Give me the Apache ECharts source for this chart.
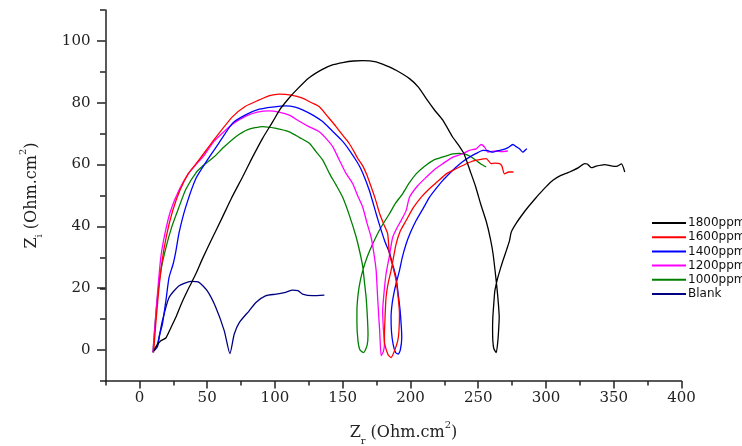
<!DOCTYPE html>
<html>
<head>
<meta charset="utf-8">
<script src="https://cdn.jsdelivr.net/npm/echarts@6/dist/echarts.min.js"></script>
<style>
  html, body { margin: 0; padding: 0; background: #ffffff; }
  #chart { width: 742px; height: 446px; }
</style>
</head>
<body>
<div id="chart"></div>
<script>
// Nyquist plots: [Zr, Zi] pairs in Ohm.cm2, listed along each curve
const seriesNames = ['1800ppm', '1600ppm', '1400ppm', '1200ppm', '1000ppm', 'Blank'];
const seriesColors = ['#000000', '#ff0000', '#0000ff', '#ff00ff', '#008000', '#000080'];

const zrTickLabels = [0, 50, 100, 150, 200, 250, 300, 350, 400];
const ziTickLabels = [0, 20, 40, 60, 80, 100];

const curve1800 = [[10.9,-0.2],[13,1.5],[15.8,3],[19.5,3.9],[23,7],[26.9,10.6],[31,15],[36.7,20.3],[41.5,24.5],[46.5,29.5],[53,35.5],[61.3,43],[68,49.2],[76.1,56],[83,62],[90.9,68.5],[98.3,73.8],[104,78],[110,81.3],[115.6,84],[125,88],[135,90.8],[143,92.3],[150,93],[158,93.5],[164.8,93.6],[174.7,93.2],[182,92],[189.4,90.5],[199.3,87.8],[206,85],[213,80.5],[218,77.5],[224,74.3],[231,69],[235.5,66.3],[239.5,63.5],[244,58],[248,53],[252,47],[256,41.5],[259,36],[261,31],[263,23.5],[264.5,17],[265.5,10.6],[265,6],[264.5,3],[263.3,-0.8],[261.5,0.5],[260.8,3],[260.6,7],[260.8,10.6],[261.5,15],[262.3,19.2],[264.5,23.5],[266.5,26.5],[268.2,28.9],[271,32.5],[273.1,35.4],[274.4,38.2],[278,41],[283,44.1],[286.7,46.2],[292.9,49.4],[295.3,50.6],[300,52.8],[305.1,54.9],[311,56.5],[317.4,57.6],[320,58.1],[324,59],[328.5,60.3],[330.5,60.2],[333.5,59],[337,59.5],[343.3,60],[348,59.6],[351.9,59.4],[355.7,60.2],[358.1,57.6]];

const curve1600 = [[10.5,-0.8],[12,8],[14,18],[16.5,28],[20,37],[24.5,45],[30,51.8],[36,57],[44,61.5],[55,68],[68.8,75.5],[78,78.8],[88.4,80.9],[96,82.3],[103.2,82.8],[112,82.5],[120.4,81.5],[127,80],[132.8,78.7],[139,75.5],[145.1,72.3],[150,69.5],[154.7,66.9],[158,64.5],[161.1,62],[164.8,59.6],[167.5,57],[170.2,53.8],[174,49],[177.3,44.1],[180.5,40.5],[183.2,37.6],[184.5,31.1],[187,27],[189.4,22.5],[191.2,16],[191.9,11.7],[191.5,6],[190.6,3],[188,-0.5],[185.7,-2.4],[183.5,-1.5],[181,2],[180.8,4.1],[181.2,10],[182,17],[183.5,21.5],[185.7,25.7],[187.5,30],[189.4,34.3],[192.5,38.5],[196.8,41.9],[202,46],[208,49.5],[214,52.2],[220,54.5],[226.4,57],[232,58.3],[238.6,59.7],[245,61],[251,61.6],[255.9,61.9],[259.6,60.3],[262.5,60.5],[265.8,60.3],[267.5,59.5],[269.4,57],[272.5,57.6],[276,57.6]];

const curve1400 = [[10,-0.5],[12,0.3],[13.4,1.1],[15,5],[17,8.4],[19.6,16.1],[21.9,23.5],[25,28],[27,32.2],[29.3,38],[34,46],[41.7,55.5],[50.2,61.5],[58,66.5],[68.8,73.4],[78,76],[88.4,77.9],[98,78.6],[108.2,79],[115,78.6],[120.4,77.7],[128,76],[135.2,73.9],[142,71],[150,67.5],[155.5,64.3],[161.1,60.5],[164.8,57.3],[169.7,51.6],[174.7,44.1],[177.5,40],[181,35.3],[184.5,31.5],[187,27.5],[189.4,23.5],[191,18],[192.4,12.7],[193.2,8],[193.6,4.1],[192.5,0],[191,-1.3],[189,-0.8],[187.2,1.9],[186,6],[185.7,10.6],[186.5,15],[188.2,19.2],[190,22.5],[191.9,25.7],[194,30],[196.8,34.3],[200,38],[204.2,41.9],[209,45.5],[214,49.4],[219,52.3],[223.9,54.9],[229,57.2],[233.8,59.2],[238.7,61],[243.6,62.4],[248.5,63.6],[253.4,64.6],[257,64.5],[260.8,64],[264.5,64.5],[268.2,64.8],[272,65.5],[275.6,66.5],[278,65.8],[280.5,65.1],[283,64],[285,64.8],[286,65.1]];

const curve1200 = [[10,-0.8],[11.5,8],[13.3,18],[15.8,30],[19,38],[23,45],[29,51.5],[36,57],[41.7,60],[47.8,63],[55,67.5],[63.8,71.2],[70,73.5],[78.6,75.7],[87,77],[95.8,77.4],[103,77],[110.6,76],[118,74],[125,72.3],[132.8,70.6],[138,68.3],[142.6,65.8],[147.5,61.5],[152,57.5],[157.4,53.8],[161,50],[164.8,46.2],[168,41],[171,36.5],[173.3,30.5],[174.7,25.7],[175.8,17],[176.6,11],[177.3,6.3],[178.4,-1.8],[180,-0.5],[180.8,1.9],[180,7],[179.5,12.7],[180.5,18.5],[182,24.6],[184.5,30.5],[186.9,36.5],[190,39.5],[193.1,41.9],[196.8,45.1],[199.3,49.4],[205,53],[211.6,55.9],[218,58.5],[223.9,60.3],[231.3,62.4],[238.6,63.5],[243.6,64.6],[248.5,65.1],[252.2,66.5],[255,65.5],[257.1,64],[260,64.3],[263.3,64.4],[267,64.2],[271.9,64.4]];

const curve1000 = [[10,-0.8],[11.5,8],[13.3,17],[16,26],[19.5,33],[24,40],[29,46],[34.3,52],[42,57.5],[48,60],[55.2,62.5],[62,65.5],[71.2,69],[80,71.3],[90.9,72.3],[100,71.8],[110.6,70.6],[118,68.8],[125.4,66.9],[130.3,64.2],[135.2,61.5],[140.4,57],[145,53.5],[150,49.4],[155,43.5],[160,36.5],[163,31],[164.8,27],[166.3,21],[167.3,17],[168.3,10],[168.7,5],[168,1.5],[165.5,-0.8],[162.8,0],[161.3,3],[160.5,9],[160.6,14],[161.5,18.5],[163,22.5],[164.8,25.7],[168,30],[172.1,34.3],[178,39.5],[184.5,44.1],[189,47.5],[194.3,50.6],[199,54],[204.2,57],[210,59.3],[216.5,61.3],[224,62.5],[231.3,63.5],[236,63.6],[239.9,63.5],[244,62.7],[248.5,61.3],[252,60.2],[255.9,59.2]];

const curveBlank = [[10,-0.5],[13.3,1.9],[17,9.5],[21.9,17],[29.3,20.8],[38,22.2],[44,21.9],[50,19.2],[56.4,13.8],[62.6,6.3],[66.8,-1.1],[70,5.2],[73.7,8.9],[81,12.7],[86,15.4],[93.4,17.6],[100.8,18.1],[108,18.7],[113,19.4],[117,19.2],[120.4,18.1],[127.8,17.6],[136.5,17.8]];

const curves = [curve1800, curve1600, curve1400, curve1200, curve1000, curveBlank];

const axisColor = '#222222';
const serif = 'DejaVu Serif';

const nameRich = {
  b: { fontFamily: serif, fontSize: 16, color: '#222', lineHeight: 26, verticalAlign: 'middle' },
  s: { fontFamily: serif, fontSize: 10, color: '#222', lineHeight: 26, verticalAlign: 'bottom' },
  p: { fontFamily: serif, fontSize: 10, color: '#222', lineHeight: 26, verticalAlign: 'top' }
};

const chart = echarts.init(document.getElementById('chart'), null, { renderer: 'canvas' });

chart.setOption({
  animation: false,
  backgroundColor: '#ffffff',
  grid: [
    { left: 105.5, right: 60.5, top: 10, bottom: 65, containLabel: false, outerBoundsMode: 'none' },
    { left: 139.4, right: 60.5, top: 41, bottom: 96, containLabel: false, outerBoundsMode: 'none' }
  ],
  xAxis: [
    {
      gridIndex: 0, type: 'value', min: -25, max: zrTickLabels[zrTickLabels.length - 1], interval: 25,
      axisLine: { onZero: false, lineStyle: { color: axisColor, width: 1.5 } },
      axisTick: { length: 4.5, lineStyle: { color: axisColor, width: 1.5 } },
      axisLabel: { show: false },
      splitLine: { show: false }
    },
    {
      gridIndex: 1, type: 'value', min: zrTickLabels[0], max: zrTickLabels[zrTickLabels.length - 1], interval: 50,
      offset: 31,
      axisLine: { show: false, onZero: false },
      axisTick: { length: 7.5, lineStyle: { color: axisColor, width: 1.5 } },
      axisLabel: { margin: 10, fontFamily: serif, fontSize: 15, color: '#222' },
      splitLine: { show: false },
      name: '{b|Z}{s|r}{b| (Ohm.cm}{p|2}{b|)}',
      nameLocation: 'middle',
      nameGap: 39,
      nameTextStyle: { rich: nameRich, padding: [0, 14, 0, 0] }
    }
  ],
  yAxis: [
    {
      gridIndex: 0, type: 'value', min: -10, max: 110, interval: 10,
      axisLine: { onZero: false, lineStyle: { color: axisColor, width: 1.5 } },
      axisTick: { length: 5.5, lineStyle: { color: axisColor, width: 1.5 } },
      axisLabel: { show: false },
      splitLine: { show: false }
    },
    {
      gridIndex: 1, type: 'value', min: ziTickLabels[0], max: ziTickLabels[ziTickLabels.length - 1], interval: 20,
      offset: 33.9,
      axisLine: { show: false, onZero: false },
      axisTick: { length: 8.5, lineStyle: { color: axisColor, width: 1.5 } },
      axisLabel: { margin: 15, fontFamily: serif, fontSize: 15, color: '#222' },
      splitLine: { show: false },
      name: '{b|Z}{s|i}{b| (Ohm.cm}{p|2}{b|)}',
      nameLocation: 'middle',
      nameGap: 61,
      nameTextStyle: { rich: nameRich }
    }
  ],
  legend: {
    orient: 'vertical',
    left: 647,
    top: 212,
    itemWidth: 34,
    itemHeight: 2,
    itemGap: 2.2,
    icon: 'rect',
    data: seriesNames,
    textStyle: { fontFamily: 'DejaVu Sans', fontSize: 12, lineHeight: 12, color: '#111', padding: [0, 0, 0, -3] }
  },
  series: seriesNames.map((name, i) => ({
    name: name,
    type: 'line',
    xAxisIndex: 0,
    yAxisIndex: 0,
    data: curves[i],
    showSymbol: false,
    smooth: 0.2,
    color: seriesColors[i],
    lineStyle: { color: seriesColors[i], width: 1.3 },
    z: 10 - i
  }))
});
</script>
</body>
</html>
